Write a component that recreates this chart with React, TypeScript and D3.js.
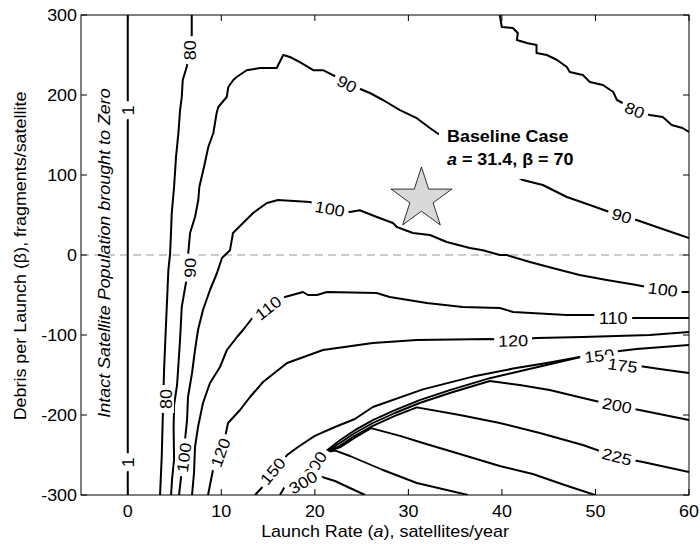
import React from 'react';
import * as d3 from 'd3';

type P = [number, number];

const xTicks = [0, 10, 20, 30, 40, 50, 60];
const yTicks = [-300, -200, -100, 0, 100, 200, 300];

const contour1: P[] = [[0, -300], [0, 300]];
const contour80Left: P[] = [[6.84, 300], [6.84, 275], [6.6, 256], [6.3, 235], [5.88, 219], [5.77, 197], [5.59, 181], [5.41, 152], [5.16, 123], [4.95, 85], [4.7, 52], [4.59, 19], [4.52, 1], [4.34, -19], [4.06, -94], [3.88, -144], [3.8, -177], [3.74, -204], [3.63, -252], [3.45, -300]];
const contour80Right: P[] = [[39.77, 300], [39.99, 285], [41.16, 283.75], [41.7, 277.5], [41.6, 268.75], [42.66, 265], [43.7, 262.5], [43.7, 252.5], [44.8, 250], [45.9, 243.75], [46.94, 235], [47.25, 228.75], [48.65, 225], [49.4, 216.25], [50.8, 212.5], [51.9, 203.75], [52.3, 193.75], [52.9, 190], [54.2, 181], [55.8, 175], [57.2, 172.5], [58.15, 162.5], [59.3, 158.75], [60, 153.75]];
const contour90: P[] = [[4.63, -300], [4.73, -281], [4.95, -256], [4.9, -216.25], [4.95, -187.5], [5.27, -162.5], [5.59, -106], [5.77, -65], [6.23, -34], [6.66, -16], [6.47, 2.5], [6.66, 27.5], [7.19, 47.5], [7.54, 68.75], [7.65, 85], [8.15, 110], [8.61, 135], [9.15, 152.5], [9.5, 177.5], [9.68, 185], [10.58, 197.5], [10.75, 210], [11.28, 218.75], [11.65, 222.5], [12.71, 231], [14.13, 233.75], [15.92, 233.75], [16.62, 250], [17.34, 247.5], [18.4, 241], [19.83, 231], [20.87, 231], [22.33, 222.5], [23.43, 212.5], [24.6, 208.75], [25.89, 202.5], [27.28, 193.75], [29.1, 181], [30.9, 171], [32.3, 158.75], [33.05, 152.5], [37.64, 122.5], [42.24, 93.75], [44.37, 87.5], [46.94, 72.5], [49.4, 62.5], [51.5, 53.75], [52.8, 48.75], [54.4, 43.75], [56.55, 35], [60, 21.25]];
const contour100: P[] = [[5.48, -300], [5.7, -277.5], [6.0, -253.75], [6.12, -231], [6.34, -206], [6.44, -177.5], [6.87, -147.5], [7.19, -118.75], [7.51, -93.75], [8.04, -68.75], [8.79, -43.75], [9.54, -22.5], [10.07, -3.75], [10.93, 6], [11.25, 27.5], [12.32, 40], [13.4, 52.5], [14.88, 65], [16.06, 68.75], [19.48, 66.25], [21.6, 58], [23.75, 53.75], [24.8, 56], [26.63, 47.5], [28.35, 40], [28.77, 35], [30.48, 27.5], [32.3, 25], [34.1, 16.25], [36.57, 8.75], [37.96, 6], [39.77, 0], [40.5, 0], [43, -8.75], [45.4, -16.25], [48.3, -25], [51.2, -31.25], [54.4, -37.5], [57.1, -43.75], [59, -46.25], [60, -46.25]];
const contour110: P[] = [[6.87, -300], [7.08, -272.5], [7.19, -240], [7.51, -215], [8.04, -185], [8.79, -160], [9.86, -140], [10.6, -118.75], [11.68, -102.5], [12.32, -93.75], [13.4, -77.5], [15.0, -66.25], [16.8, -52.5], [18.73, -46.25], [19.27, -50], [20.23, -50], [21.3, -46.25], [26.6, -47.5], [28, -52.5], [31.97, -60], [35.8, -65], [39.77, -66.25], [41.2, -71.25], [46.9, -75], [50.14, -75], [51.8, -78.75], [54, -78.75], [60, -78.75]];
const contour120: P[] = [[8.58, -300], [9.11, -268.75], [9.7, -248], [10.4, -227.5], [10.72, -210], [12, -193.75], [13.07, -177.5], [14.46, -158.75], [17.03, -135], [20.87, -118.75], [26.2, -110], [30.9, -106.25], [38.7, -105], [41.2, -106], [43.7, -103.75], [48.65, -102.5], [55.8, -100], [60, -96.25]];
const contour150: P[] = [[13.6, -300], [14.6, -287.5], [15.5, -276], [17.03, -250], [18.2, -240], [20.0, -226], [22.15, -215], [24.28, -205], [26.2, -190], [31.55, -168], [36.9, -152], [41.2, -142], [44.8, -135], [48.3, -127.5], [50.24, -123.75], [52.6, -120], [54.4, -117.5], [60, -112.5]];
const contour175: P[] = [[21.0, -247], [22.68, -231.5], [24.28, -219], [26.2, -206.5], [28.56, -194], [31.2, -181.5], [34.43, -169], [38.7, -154], [41.9, -145.25], [45.1, -136.5], [48.65, -127], [51.0, -133.75], [52.6, -137.5], [54.7, -138.75], [56.87, -142.5], [60, -147.5]];
const contour200: P[] = [[21.0, -247], [22.68, -235], [24.28, -222.5], [26.2, -210], [28.56, -197.5], [31.2, -185], [34.43, -172.5], [38.7, -157.5], [41.9, -162.5], [45.1, -168.75], [48.65, -178.75], [52.3, -188.75], [54.7, -193.75], [60, -206.25]];
const contour225: P[] = [[21.0, -247], [22.68, -238.5], [24.28, -226], [26.2, -213.5], [28.56, -201], [30.9, -190.5], [35.5, -200], [39.77, -210], [44.05, -222.5], [48.65, -237.5], [52.3, -252.5], [55.07, -258.75], [60, -271.25]];
const contour250: P[] = [[21.0, -247], [22.68, -240.5], [24.28, -228.5], [26.0, -216.5], [29.1, -226], [31.55, -235], [34.43, -245], [39.77, -263.75], [43.3, -273.75], [46.7, -287.5], [49.94, -300]];
const contour275: P[] = [[21.0, -247], [22.2, -244.5], [23.75, -251.25], [27.28, -268.75], [30.9, -285], [36.36, -300]];
const contour300: P[] = [[16.27, -300], [16.7, -291.25], [18.74, -283.75], [20.77, -277.5], [22.15, -282.5], [23.75, -291.25], [25.36, -300]];

const mainContours: P[][] = [contour1, contour80Left, contour80Right, contour90, contour100, contour110, contour120, contour150, contour300];
const ridgeContours: P[][] = [contour175, contour200, contour225, contour250, contour275];

const labelTexts = ['1', '1', '80', '80', '90', '90', '90', '80', '100', '100', '100', '110', '110', '120', '120', '150', '150', '175', '200', '225', '300', '300'];
const labelX = [0, 0, 6.65, 4.09, 6.66, 23.43, 52.8, 54.2, 21.6, 57.2, 6.0, 15.0, 51.9, 41.2, 9.9, 15.5, 50.4, 52.9, 52.3, 52.3, 20.0, 18.74];
const labelY = [181, -259, 256, -180, -16, 214, 49, 181, 58, -43, -253, -66, -79, -107, -247, -270, -126, -138, -188, -252, -263, -284];
const labelAngle = [-90, -90, -90, -90, -88, 27, 17, 22, 10, 7, -83, -38, 0, -1, -70, -50, -6, 8, 11, 14, -58, -30];

const baseline: P = [31.4, 70];

const W = 700, H = 544;
const FONT = 'Liberation Sans, Arial, Helvetica, sans-serif';
const SX = 1.12;

export default function App() {
  const x = d3.scaleLinear().domain([-5, 60]).range([81, 689]);
  const y = d3.scaleLinear().domain([-300, 300]).range([495, 15]);
  const line = d3.line<P>().x(d => x(d[0])).y(d => y(d[1]));
  const star = d3.symbol().type(d3.symbolStar).size(1150)() as string;
  const x0 = x(-5), x1 = x(60), y0 = y(-300), y1 = y(300);

  return (
    <svg width={W} height={H} style={{ position: 'absolute', left: 0, top: 0, background: '#fff' }} fontFamily={FONT}>
      <defs>
        <clipPath id="plot"><rect x={x0} y={y1} width={x1 - x0} height={y0 - y1} /></clipPath>
      </defs>
      <rect x={0} y={0} width={W} height={H} fill="#fff" />
      <line x1={x0} x2={x1} y1={y(0)} y2={y(0)} stroke="#999" strokeWidth={1} strokeDasharray="8,5" />
      <g clipPath="url(#plot)" fill="none" stroke="#000" strokeLinejoin="round">
        {mainContours.map((c, i) => <path key={i} d={line(c) as string} strokeWidth={2} />)}
        {ridgeContours.map((c, i) => <path key={'r' + i} d={line(c) as string} strokeWidth={1.9} />)}
      </g>
      {labelTexts.map((t, i) => {
        const w = t.length * 0.556 * 16 * SX + 8;
        return (
          <g key={i} transform={`translate(${x(labelX[i])},${y(labelY[i])}) rotate(${labelAngle[i]})`}>
            <rect x={-w / 2} y={-8} width={w} height={16} fill="#fff" />
            <text transform={`scale(${SX},1)`} textAnchor="middle" dy="0.36em" fontSize={16}>{t}</text>
          </g>
        );
      })}
      <rect x={439} y={126} width={132} height={53} fill="#fff" />
      <text transform={`translate(447,142) scale(${SX},1)`} fontSize={16} fontWeight="bold">Baseline Case</text>
      <text transform={`translate(447,165) scale(${SX},1)`} fontSize={16} fontWeight="bold">
        <tspan fontStyle="italic">a</tspan> = 31.4, β = 70
      </text>
      <path d={star} transform={`translate(${x(baseline[0])},${y(baseline[1])})`} fill="#d9d9d9" stroke="#000" strokeWidth={0.8} />
      <text transform={`translate(110,253) rotate(-90) scale(${SX},1)`} textAnchor="middle" fontSize={16} fontStyle="italic">Intact Satellite Population brought to Zero</text>
      <rect x={x0} y={y1} width={x1 - x0} height={y0 - y1} fill="none" stroke="#000" strokeWidth={1} />
      {xTicks.map(v => (
        <g key={'xt' + v}>
          <line x1={x(v)} x2={x(v)} y1={y0} y2={y0 - 6} stroke="#000" />
          <line x1={x(v)} x2={x(v)} y1={y1} y2={y1 + 6} stroke="#000" />
          <text transform={`translate(${x(v)},517) scale(${SX},1)`} textAnchor="middle" fontSize={16}>{v}</text>
        </g>
      ))}
      {yTicks.map(v => (
        <g key={'yt' + v}>
          <line x1={x0} x2={x0 + 6} y1={y(v)} y2={y(v)} stroke="#000" />
          <line x1={x1} x2={x1 - 6} y1={y(v)} y2={y(v)} stroke="#000" />
          <text transform={`translate(77,${y(v)}) scale(${SX},1)`} textAnchor="end" dy="0.36em" fontSize={16}>{v}</text>
        </g>
      ))}
      <text transform={`translate(385,537) scale(${SX},1)`} textAnchor="middle" fontSize={16}>
        Launch Rate (<tspan fontStyle="italic">a</tspan>), satellites/year
      </text>
      <text transform={`translate(26,256) rotate(-90) scale(${SX},1)`} textAnchor="middle" fontSize={16}>
        Debris per Launch (β), fragments/satellite
      </text>
    </svg>
  );
}
